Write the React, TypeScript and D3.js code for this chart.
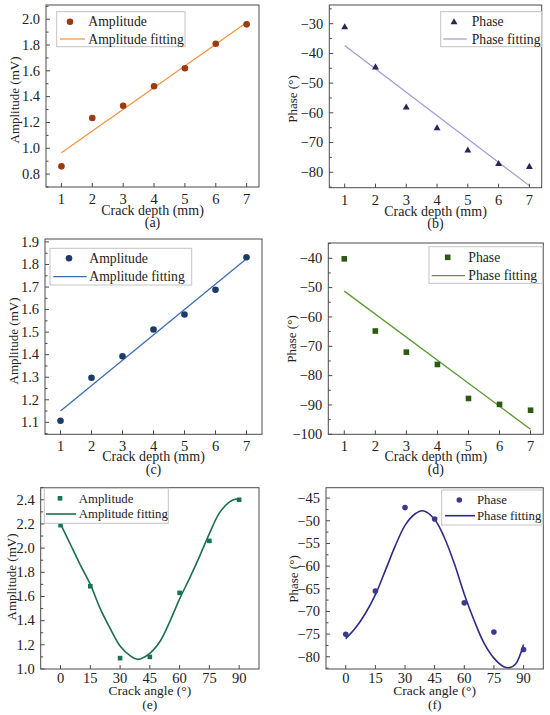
import React from 'react';
import * as d3 from 'd3';

// ---------- data ----------
const depths = [1, 2, 3, 4, 5, 6, 7];
const angles = [0, 15, 30, 45, 60, 75, 90];

const ampA = [0.86, 1.235, 1.33, 1.48, 1.62, 1.81, 1.96];
const fitAX = [1, 7];
const fitAY = [0.965, 1.975];

const phaseB = [-31, -44.5, -58, -65, -72.5, -77, -78];
const fitBX = [1, 7];
const fitBY = [-37.3, -84.5];

const ampC = [1.107, 1.298, 1.393, 1.512, 1.578, 1.688, 1.832];
const fitCX = [1, 7];
const fitCY = [1.15, 1.825];

const phaseD = [-40.2, -64.8, -72, -76.2, -87.8, -89.8, -91.8];
const fitDX = [1, 7];
const fitDY = [-51.2, -98.3];

const ampE = [2.19, 1.685, 1.09, 1.1, 1.63, 2.06, 2.4];
const fitEX = [0, 5, 10, 15, 20, 25, 30, 35, 39, 45, 50, 55, 60, 65, 70, 75, 80, 85, 88, 90];
const fitEY = [2.2, 2.03, 1.86, 1.7, 1.5, 1.336, 1.19, 1.11, 1.08, 1.13, 1.225, 1.39, 1.58, 1.75, 1.93, 2.12, 2.29, 2.38, 2.405, 2.4];

const phaseF = [-75.06, -65.5, -47.1, -49.6, -68.1, -74.55, -78.4];
const fitFX = [0, 5, 10, 15, 20, 25, 30, 35, 39, 45, 50, 55, 60, 65, 70, 75, 80, 83, 86, 90];
const fitFY = [-76.0, -73.6, -70.4, -66.3, -61.0, -55.6, -51.0, -48.5, -47.8, -49.7, -53.8, -59.5, -66.2, -72.0, -77.0, -80.3, -82.2, -82.4, -81.6, -77.3];

const depthTicks = [1, 2, 3, 4, 5, 6, 7];
const angleTicks = [0, 15, 30, 45, 60, 75, 90];
const yTicksA = [0.8, 1.0, 1.2, 1.4, 1.6, 1.8, 2.0];
const yTicksB = [-80, -70, -60, -50, -40, -30];
const yTicksC = [1.1, 1.2, 1.3, 1.4, 1.5, 1.6, 1.7, 1.8, 1.9];
const yTicksD = [-100, -90, -80, -70, -60, -50, -40];
const yTicksE = [1.0, 1.2, 1.4, 1.6, 1.8, 2.0, 2.2, 2.4];
const yTicksF = [-80, -75, -70, -65, -60, -55, -50, -45];

// ---------- component ----------
type Marker = 'circle' | 'triangle' | 'square';
type Legend = {
  bx: number; by: number; bw: number; bh: number;
  sx: number; sy: number; lx1: number; lx2: number; ly: number; tx: number; fs: number;
};
type Cfg = {
  frame: [number, number, number, number];
  xDomain: [number, number];
  yDomain: [number, number];
  xTicks: number[];
  yTicks: number[];
  yFmt: (v: number) => string;
  xs: number[];
  ys: number[];
  fitX: number[];
  fitY: number[];
  curved: boolean;
  marker: Marker;
  markerSize: number;
  markerColor: string;
  lineColor: string;
  lineWidth: number;
  labels: [string, string];
  xTitle: string;
  yTitle: string;
  caption: string;
  yTitleX: number;
  yTitleY: number;
  tickOff: number;
  titleOff: number;
  capOff: number;
  titleFs: number;
  legend: Legend;
};

const FONT = '"Liberation Serif", "Times New Roman", serif';
const FRAME = '#4a4a4a';

function Mark({ type, x, y, s, color }: { type: Marker; x: number; y: number; s: number; color: string }) {
  if (type === 'circle') return <circle cx={x} cy={y} r={s} fill={color} />;
  if (type === 'square') return <rect x={x - s} y={y - s} width={2 * s} height={2 * s} fill={color} />;
  return <path d={`M${x},${y - s * 1.05}L${x + s * 1.05},${y + s * 0.8}L${x - s * 1.05},${y + s * 0.8}Z`} fill={color} />;
}

function Panel({ c }: { c: Cfg }) {
  const [l, t, r, b] = c.frame;
  const x = d3.scaleLinear().domain(c.xDomain).range([l, r]);
  const y = d3.scaleLinear().domain(c.yDomain).range([b, t]);
  const step = c.yTicks[1] - c.yTicks[0];
  const minors: number[] = [];
  for (let i = -1; i < c.yTicks.length; i++) {
    const v = c.yTicks[0] + (i + 0.5) * step;
    if (v > Math.min(...c.yDomain) && v < Math.max(...c.yDomain)) minors.push(v);
  }
  const pts = c.fitX.map((v, i) => [v, c.fitY[i]] as [number, number]);
  const line = d3
    .line<[number, number]>()
    .x((d) => x(d[0]))
    .y((d) => y(d[1]))
    .curve(c.curved ? d3.curveCatmullRom : d3.curveLinear);
  const lg = c.legend;
  return (
    <g fontFamily={FONT} fill="#222">
      {/* fit line */}
      <path d={line(pts) || ''} fill="none" stroke={c.lineColor} strokeWidth={c.lineWidth} />
      {/* markers */}
      {c.xs.map((v, i) => (
        <Mark key={i} type={c.marker} x={x(v)} y={y(c.ys[i])} s={c.markerSize} color={c.markerColor} />
      ))}
      {/* frame */}
      <rect x={l} y={t} width={r - l} height={b - t} fill="none" stroke={FRAME} strokeWidth={1} />
      {/* y ticks */}
      {c.yTicks.map((v) => (
        <g key={'y' + v}>
          <line x1={l} x2={l + 4} y1={y(v)} y2={y(v)} stroke={FRAME} strokeWidth={1} />
          <text x={l - 6} y={y(v) + 4.8} fontSize={14.5} textAnchor="end">
            {c.yFmt(v)}
          </text>
        </g>
      ))}
      {minors.map((v) => (
        <line key={'m' + v} x1={l} x2={l + 2.5} y1={y(v)} y2={y(v)} stroke={FRAME} strokeWidth={1} />
      ))}
      {/* x ticks */}
      {c.xTicks.map((v) => (
        <g key={'x' + v}>
          <line x1={x(v)} x2={x(v)} y1={b} y2={b - 4} stroke={FRAME} strokeWidth={1} />
          <text x={x(v)} y={b + c.tickOff + 4.8} fontSize={14.5} textAnchor="middle">
            {String(v)}
          </text>
        </g>
      ))}
      {/* titles */}
      <text x={(l + r) / 2} y={b + c.titleOff} fontSize={c.titleFs} textAnchor="middle">
        {c.xTitle}
      </text>
      <text x={(l + r) / 2} y={b + c.capOff} fontSize={c.titleFs} textAnchor="middle">
        {c.caption}
      </text>
      <text
        transform={`translate(${c.yTitleX + 4.4},${c.yTitleY}) rotate(-90)`}
        fontSize={13}
        textAnchor="middle"
      >
        {c.yTitle}
      </text>
      {/* legend */}
      <rect x={lg.bx} y={lg.by} width={lg.bw} height={lg.bh} fill="#fff" stroke="#c4c4c4" strokeWidth={1} />
      <Mark type={c.marker} x={lg.sx} y={lg.sy} s={c.markerSize} color={c.markerColor} />
      <line x1={lg.lx1} x2={lg.lx2} y1={lg.ly} y2={lg.ly} stroke={c.lineColor} strokeWidth={c.lineWidth} />
      <text x={lg.tx} y={lg.sy + lg.fs * 0.33} fontSize={lg.fs}>
        {c.labels[0]}
      </text>
      <text x={lg.tx} y={lg.ly + lg.fs * 0.33} fontSize={lg.fs}>
        {c.labels[1]}
      </text>
    </g>
  );
}

const f1 = d3.format('.1f');
const f0 = d3.format('d');

const panels: Cfg[] = [
  {
    frame: [46, 5, 259, 187], xDomain: [0.5, 7.4], yDomain: [0.7, 2.11],
    xTicks: depthTicks, yTicks: yTicksA, yFmt: f1, xs: depths, ys: ampA, fitX: fitAX, fitY: fitAY, curved: false,
    marker: 'circle', markerSize: 3.3, markerColor: '#9c3a10', lineColor: '#f5923e', lineWidth: 1.2,
    labels: ['Amplitude', 'Amplitude fitting'], xTitle: 'Crack depth (mm)', yTitle: 'Amplitude (mV)', caption: '(a)',
    yTitleX: 15, yTitleY: 100, tickOff: 12, titleOff: 28, capOff: 40, titleFs: 14,
    legend: { bx: 56.7, by: 11.7, bw: 128.3, bh: 35, sx: 70, sy: 21.7, lx1: 60, lx2: 85, ly: 39, tx: 88.3, fs: 13.7 },
  },
  {
    frame: [329.3, 5, 541.7, 187.7], xDomain: [0.5, 7.4], yDomain: [-85.2, -23.7],
    xTicks: depthTicks, yTicks: yTicksB, yFmt: f0, xs: depths, ys: phaseB, fitX: fitBX, fitY: fitBY, curved: false,
    marker: 'triangle', markerSize: 3.3, markerColor: '#25275a', lineColor: '#9a9ad8', lineWidth: 1.2,
    labels: ['Phase', 'Phase fitting'], xTitle: 'Crack depth (mm)', yTitle: 'Phase (°)', caption: '(b)',
    yTitleX: 293, yTitleY: 99, tickOff: 12, titleOff: 28, capOff: 40, titleFs: 14,
    legend: { bx: 440.7, by: 11.7, bw: 101, bh: 35, sx: 454, sy: 21.7, lx1: 443.3, lx2: 466.7, ly: 39, tx: 471.7, fs: 13.7 },
  },
  {
    frame: [45, 239, 262, 434.3], xDomain: [0.5, 7.5], yDomain: [1.047, 1.913],
    xTicks: depthTicks, yTicks: yTicksC, yFmt: f1, xs: depths, ys: ampC, fitX: fitCX, fitY: fitCY, curved: false,
    marker: 'circle', markerSize: 3.3, markerColor: '#1d3b69', lineColor: '#3a6db2', lineWidth: 1.3,
    labels: ['Amplitude', 'Amplitude fitting'], xTitle: 'Crack depth (mm)', yTitle: 'Amplitude (mV)', caption: '(c)',
    yTitleX: 13.3, yTitleY: 341, tickOff: 12.2, titleOff: 27, capOff: 40, titleFs: 14,
    legend: { bx: 50, by: 248.3, bw: 141.7, bh: 36.7, sx: 69, sy: 258.3, lx1: 53.3, lx2: 86.7, ly: 276.7, tx: 89.3, fs: 13.7 },
  },
  {
    frame: [328.3, 243, 543.3, 434.3], xDomain: [0.485, 7.41], yDomain: [-100, -34.8],
    xTicks: depthTicks, yTicks: yTicksD, yFmt: f0, xs: depths, ys: phaseD, fitX: fitDX, fitY: fitDY, curved: false,
    marker: 'square', markerSize: 2.8, markerColor: '#2c5a12', lineColor: '#5a9a30', lineWidth: 1.3,
    labels: ['Phase', 'Phase fitting'], xTitle: 'Crack depth (mm)', yTitle: 'Phase (°)', caption: '(d)',
    yTitleX: 291.7, yTitleY: 339, tickOff: 12.2, titleOff: 27, capOff: 40, titleFs: 14,
    legend: { bx: 429, by: 246.7, bw: 113.7, bh: 36.6, sx: 447.7, sy: 257.3, lx1: 431.7, lx2: 465, ly: 275.7, tx: 468.3, fs: 13.7 },
  },
  {
    frame: [40.7, 487.7, 259, 669], xDomain: [-10, 100], yDomain: [1.0, 2.5],
    xTicks: angleTicks, yTicks: yTicksE, yFmt: f1, xs: angles, ys: ampE, fitX: fitEX, fitY: fitEY, curved: true,
    marker: 'square', markerSize: 2.3, markerColor: '#16744f', lineColor: '#1d6e4f', lineWidth: 1.6,
    labels: ['Amplitude', 'Amplitude fitting'], xTitle: 'Crack angle (°)', yTitle: 'Amplitude (mV)', caption: '(e)',
    yTitleX: 11.7, yTitleY: 577, tickOff: 9.5, titleOff: 26, capOff: 39.5, titleFs: 13.5,
    legend: { bx: 44.3, by: 488.3, bw: 124, bh: 35, sx: 60, sy: 498.3, lx1: 46, lx2: 76, ly: 514, tx: 78.7, fs: 12.8 },
  },
  {
    frame: [326, 487.7, 543.3, 669], xDomain: [-10, 100], yDomain: [-82.7, -42.7],
    xTicks: angleTicks, yTicks: yTicksF, yFmt: f0, xs: angles, ys: phaseF, fitX: fitFX, fitY: fitFY, curved: true,
    marker: 'circle', markerSize: 2.8, markerColor: '#3a3a8e', lineColor: '#2e2b82', lineWidth: 1.6,
    labels: ['Phase', 'Phase fitting'], xTitle: 'Crack angle (°)', yTitle: 'Phase (°)', caption: '(f)',
    yTitleX: 293.3, yTitleY: 579, tickOff: 9.5, titleOff: 26, capOff: 39.5, titleFs: 13.5,
    legend: { bx: 441.7, by: 490, bw: 101, bh: 35, sx: 459.3, sy: 500, lx1: 445, lx2: 475, ly: 515.7, tx: 477, fs: 12.8 },
  },
];

export default function App() {
  return (
    <svg
      width={550}
      height={715}
      viewBox="0 0 550 715"
      style={{ position: 'absolute', left: 0, top: 0, background: '#fff' }}
    >
      <rect x={0} y={0} width={550} height={715} fill="#fff" />
      {panels.map((c, i) => (
        <Panel key={i} c={c} />
      ))}
    </svg>
  );
}
